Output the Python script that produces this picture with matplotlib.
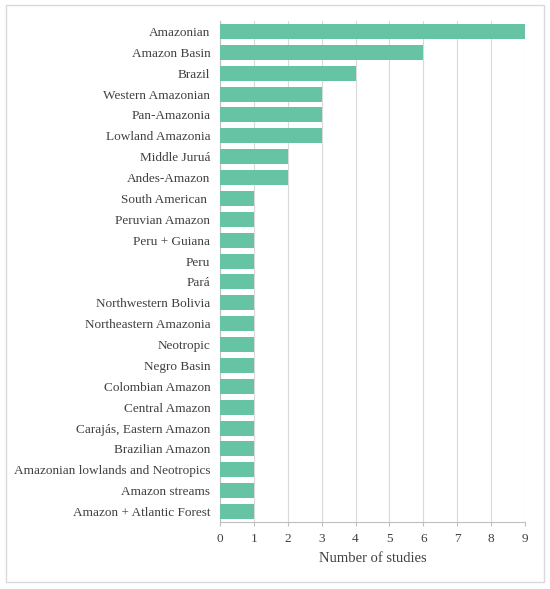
import matplotlib
matplotlib.use('Agg')
import matplotlib.pyplot as plt
from matplotlib.patches import Rectangle

regions = ['Amazonian', 'Amazon Basin', 'Brazil', 'Western Amazonian', 'Pan-Amazonia',
           'Lowland Amazonia', 'Middle Juruá', 'Andes-Amazon', 'South American ',
           'Peruvian Amazon', 'Peru + Guiana', 'Peru', 'Pará', 'Northwestern Bolivia',
           'Northeastern Amazonia', 'Neotropic', 'Negro Basin', 'Colombian Amazon',
           'Central Amazon', 'Carajás, Eastern Amazon', 'Brazilian Amazon',
           'Amazonian lowlands and Neotropics', 'Amazon streams', 'Amazon + Atlantic Forest']
studies = [9, 6, 4, 3, 3, 3, 2, 2, 1, 1, 1, 1, 1, 1, 1, 1, 1, 1, 1, 1, 1, 1, 1, 1]
xticks = list(range(0, 10))

plt.rcParams['font.family'] = ['Liberation Serif', 'DejaVu Serif']
txt = '#404040'

fig = plt.figure(figsize=(5.5, 5.89), dpi=100)
ax = fig.add_axes([0.4, 0.1138, 0.5545, 0.8505])

ypos = list(range(len(regions)))
ax.barh(ypos, studies, height=0.72, color='#66C4A4', zorder=3)
ax.set_ylim(len(regions) - 0.5, -0.5)
ax.set_xlim(0, 9)
ax.set_yticks(ypos)
ax.set_yticklabels(regions, fontsize=9.5, color=txt)
ax.set_xticks(xticks)
ax.set_xticklabels([str(v) for v in xticks], fontsize=9.5, color=txt)
ax.tick_params(axis='y', length=0, pad=7)
ax.tick_params(axis='x', length=3, color='#BFBFBF', width=0.8, pad=5)
ax.xaxis.grid(True, color='#D9D9D9', linewidth=0.8, zorder=0)
ax.set_xlabel('Number of studies', fontsize=10.5, color=txt, labelpad=5)
for s in ['top', 'right']:
    ax.spines[s].set_visible(False)
ax.spines['left'].set_color('#BFBFBF')
ax.spines['bottom'].set_color('#BFBFBF')
ax.spines['left'].set_linewidth(0.8)
ax.spines['bottom'].set_linewidth(0.8)

fig.patches.append(Rectangle((6 / 550, 7 / 589), 538 / 550, 577 / 589,
                             transform=fig.transFigure, fill=False,
                             edgecolor='#D9D9D9', linewidth=1))

fig.savefig('out.png', dpi=100)
